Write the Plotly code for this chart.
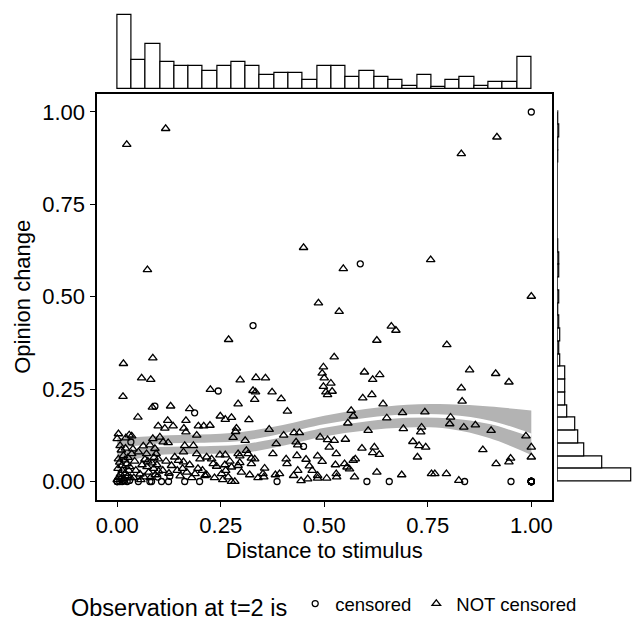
import plotly.graph_objects as go

# ---------------- data ----------------
# NOT censored observations (triangles)
nc_points = [
    (0.117,0.955),(0.023,0.912),(0.917,0.932),(0.831,0.887),(0.450,0.633),(0.073,0.573),(0.546,0.576),
    (0.757,0.600),(1.000,0.501),(0.486,0.483),(0.536,0.460),(0.662,0.420),(0.673,0.409),
    (0.269,0.384),(0.627,0.382),(0.796,0.370),(0.524,0.337),(0.015,0.319),(0.086,0.334),(0.498,0.310),(0.851,0.302),
    (0.059,0.280),(0.081,0.276),(0.297,0.275),(0.335,0.281),(0.358,0.280),(0.495,0.293),(0.500,0.280),(0.597,0.296),
    (0.634,0.289),(0.617,0.276),(0.914,0.292),
    (0.946,0.269),(0.516,0.266),(0.498,0.257),(0.831,0.253),(0.504,0.242),(0.519,0.244),(0.508,0.235),
    (0.014,0.230),(0.225,0.249),(0.328,0.246),(0.334,0.242),(0.374,0.242),(0.332,0.222),(0.396,0.224),(0.593,0.226),
    (0.615,0.235),(0.833,0.217),
    (0.292,0.210),(0.642,0.210),(0.085,0.201),(0.129,0.204),(0.175,0.197),(0.411,0.190),(0.565,0.192),(0.689,0.186),(0.743,0.188),
    (0.050,0.174),(0.249,0.177),(0.261,0.168),(0.276,0.173),(0.318,0.167),(0.570,0.177),(0.651,0.172),(0.805,0.174),
    (0.122,0.165),(0.166,0.165),
    (0.099,0.150),(0.115,0.144),(0.135,0.150),(0.161,0.144),(0.166,0.134),(0.196,0.150),(0.209,0.150),(0.224,0.152),
    (0.557,0.158),(0.803,0.156),(0.865,0.153),(0.837,0.147),(0.735,0.147),(0.288,0.144),(0.286,0.135),(0.367,0.141),
    (0.606,0.138),(0.691,0.143),(0.733,0.134),(0.903,0.138),
    (0.427,0.132),(0.440,0.132),(0.402,0.125),(0.192,0.125),(0.003,0.129),(0.029,0.126),(0.021,0.118),(0.000,0.116),
    (0.035,0.123),(0.987,0.123),(0.280,0.119),(0.490,0.120),(0.103,0.120),(0.086,0.116),
    (0.508,0.113),(0.524,0.111),(0.551,0.114),(0.309,0.111),(0.714,0.108),(0.111,0.107),(0.123,0.105),(0.432,0.107),
    (0.436,0.099),(0.384,0.102),(0.729,0.097),(0.745,0.093),(0.512,0.093),(0.591,0.090),(0.621,0.093),(1.000,0.093),
    (0.063,0.096),(0.079,0.099),(0.163,0.097),(0.184,0.097),(0.007,0.097),(0.091,0.089),(0.883,0.086),(0.312,0.084),
    (0.051,0.080),(0.160,0.080),(0.617,0.078),
    (0.035,0.075),(0.071,0.075),(0.094,0.075),(0.192,0.075),(0.292,0.075),(0.316,0.075),(0.376,0.075),(0.529,0.075),
    (0.633,0.073),(0.248,0.072),(0.261,0.072),(0.015,0.070),(0.434,0.070),(0.296,0.069),(0.484,0.069),
    (0.139,0.066),(0.216,0.066),(0.725,0.066),(1.000,0.066),(0.324,0.063),(0.950,0.063),(0.003,0.061),(0.099,0.061),
    (0.200,0.061),(0.228,0.061),(0.332,0.061),(0.408,0.061),(0.575,0.061),(0.456,0.060),
    (0.148,0.057),(0.570,0.057),(0.495,0.054),(0.160,0.053),(0.946,0.053),(0.296,0.051),(0.023,0.048),(0.232,0.048),
    (0.324,0.048),(0.410,0.048),(0.549,0.048),(0.915,0.048),(0.175,0.045),(0.260,0.045),(0.527,0.045),
    (0.011,0.043),(0.131,0.043),(0.292,0.043),(0.464,0.042),(0.240,0.041),(0.276,0.039),(0.555,0.039),(0.356,0.036),(0.561,0.034),
    (0.206,0.030),(0.262,0.030),(0.436,0.030),(0.471,0.030),(0.627,0.025),(0.188,0.021),(0.252,0.021),(0.352,0.021),
    (0.392,0.021),(0.529,0.021),(0.759,0.021),(0.767,0.021),(0.795,0.021),
    (0.216,0.018),(0.320,0.018),(0.382,0.018),(0.687,0.018),
    (0.212,0.016),(0.426,0.016),(0.484,0.016),(0.268,0.012),(0.354,0.012),(0.530,0.012),(0.573,0.012),(0.484,0.009),
    (0.506,0.009),(0.460,0.007),(0.444,0.002),(0.276,0.000),(0.284,0.000),(0.825,0.003),
    (0.000,0.005),(0.004,0.012),(0.008,0.020),(0.012,0.030),(0.002,0.035),(0.016,0.008),(0.019,0.022),(0.025,0.015),
    (0.028,0.030),(0.006,0.052),(0.018,0.058),(0.030,0.040),(0.010,0.085),(0.020,0.090),(0.026,0.065),(0.032,0.010),
    (0.040,0.010),(0.045,0.030),(0.055,0.020),(0.060,0.045),(0.065,0.012),(0.042,0.055),(0.038,0.088),(0.067,0.060),(0.057,0.005),
    (0.072,0.040),(0.076,0.025),(0.080,0.010),(0.084,0.050),(0.088,0.035),(0.092,0.018),(0.096,0.045),(0.100,0.028),
    (0.074,0.055),(0.089,0.065),
    (0.110,0.030),(0.118,0.055),(0.125,0.022),(0.145,0.030),(0.152,0.015),(0.158,0.035),(0.168,0.025),
    (0.180,0.010),(0.195,0.035),(0.235,0.010),(0.255,0.005),(0.272,0.055),(0.300,0.025),(0.340,0.010),
]
nc_x = [p[0] for p in nc_points]
nc_y = [p[1] for p in nc_points]

# censored observations (circles)
c_points = [
    (1.000,1.000),(0.587,0.589),(0.328,0.422),(0.244,0.245),(0.091,0.204),(0.187,0.186),(0.033,0.107),(0.450,0.095),
    (0.386,0.000),(0.603,0.000),(0.657,0.000),(0.839,0.000),(0.951,0.000),
    (1.000,0.000),(1.000,0.000),(1.000,0.000),(1.000,0.000),(1.000,0.000),(1.000,0.000),(1.000,0.000),
    (1.000,0.000),(1.000,0.000),(1.000,0.000),(1.000,0.000),(1.000,0.000),(1.000,0.000),
    (0.000,0.000),(0.000,0.000),(0.000,0.000),(0.006,0.000),(0.012,0.000),(0.018,0.002),(0.024,0.000),(0.030,0.003),
    (0.009,0.006),(0.015,0.004),(0.051,0.000),(0.079,0.000),(0.083,0.000),(0.098,0.012),(0.107,0.000),(0.127,0.014),
    (0.124,0.000),(0.163,0.000),(0.199,0.000),
]
c_x = [p[0] for p in c_points]
c_y = [p[1] for p in c_points]

# loess smooth (fit and confidence band)
smooth_x = [0.0, 0.1, 0.2, 0.3, 0.4, 0.5, 0.6, 0.7, 0.8, 0.9, 1.0]
smooth_fit = [0.085, 0.098, 0.100, 0.105, 0.125, 0.150, 0.167, 0.177, 0.176, 0.160, 0.125]
smooth_hi = [0.117, 0.124, 0.127, 0.134, 0.153, 0.178, 0.196, 0.208, 0.209, 0.203, 0.192]
smooth_lo = [0.050, 0.072, 0.075, 0.077, 0.097, 0.122, 0.138, 0.146, 0.143, 0.117, 0.072]

# marginal histogram counts (29 bins over [0, 1])
n_bins = 29
top_counts = [41, 16, 25, 15, 13, 13, 10, 13, 15, 13, 8, 9, 9, 5, 13, 13, 7, 10, 7, 5, 2, 8, 1, 5, 7, 2, 4, 4, 18]
right_counts = [97, 59, 35, 28, 23, 13, 11, 10, 10, 4, 2, 4, 2, 1, 2, 0, 2, 2, 1, 0, 0, 0, 0, 0, 0, 1, 1, 2, 1]

tick_vals = [0, 0.25, 0.5, 0.75, 1.0]
tick_text = ["0.00", "0.25", "0.50", "0.75", "1.00"]

# ---------------- figure ----------------
W, H = 634, 621
bin_w = 1.0 / n_bins
bin_centers = [(i + 0.5) * bin_w for i in range(n_bins)]

FONT = "Liberation Sans, Arial, Helvetica, sans-serif"
fig = go.Figure()

# confidence band: lower edge, then upper edge filled down to it
fig.add_trace(go.Scatter(
    x=smooth_x, y=smooth_lo, mode="lines",
    line=dict(width=0, shape="spline", color="rgba(0,0,0,0)"), showlegend=False, hoverinfo="skip"))
fig.add_trace(go.Scatter(
    x=smooth_x, y=smooth_hi, mode="lines", fill="tonexty", fillcolor="rgb(179,179,179)",
    line=dict(width=0, shape="spline", color="rgba(0,0,0,0)"), showlegend=False, hoverinfo="skip"))
fig.add_trace(go.Scatter(
    x=smooth_x, y=smooth_fit, mode="lines",
    line=dict(color="white", width=3.5, shape="spline"), showlegend=False, hoverinfo="skip"))

fig.add_trace(go.Scatter(
    x=c_x, y=c_y, mode="markers", name="censored",
    marker=dict(symbol="circle-open", size=6, color="black", line=dict(width=1.3))))
fig.add_trace(go.Scatter(
    x=nc_x, y=nc_y, mode="markers", name="NOT censored",
    marker=dict(symbol="triangle-up-open", size=7.5, color="black", line=dict(width=1.3))))

bar_style = dict(color="white", line=dict(color="black", width=1.2))
fig.add_trace(go.Bar(x=bin_centers, y=top_counts, width=bin_w, marker=bar_style,
                     xaxis="x2", yaxis="y2", showlegend=False, hoverinfo="skip"))
fig.add_trace(go.Bar(y=bin_centers, x=right_counts, width=bin_w, orientation="h", marker=bar_style,
                     xaxis="x3", yaxis="y3", showlegend=False, hoverinfo="skip"))
fig.add_trace(go.Scatter(x=[0, 0], y=[0, n_bins * bin_w], mode="lines",
                         line=dict(color="black", width=1.2),
                         xaxis="x3", yaxis="y3", showlegend=False, hoverinfo="skip"))

px_l, px_r, px_t, px_b = 96.5, 552.0, 93.5, 500.0
xdom = [px_l / W, px_r / W]
ydom = [(H - px_b) / H, (H - px_t) / H]

axis_common = dict(
    range=[-0.05, 1.05], tickvals=tick_vals, ticktext=tick_text,
    ticks="outside", ticklen=5, tickwidth=1.2, tickcolor="black",
    showline=True, mirror=True, linecolor="black", linewidth=2,
    showgrid=False, zeroline=False,
    tickfont=dict(size=22, color="black", family=FONT),
)

fig.update_layout(
    width=W, height=H,
    margin=dict(l=0, r=0, t=0, b=0, autoexpand=False),
    paper_bgcolor="white", plot_bgcolor="white",
    font=dict(family=FONT, color="black"),
    xaxis=dict(domain=xdom, anchor="y",
               title=dict(text="Distance to stimulus", font=dict(size=22), standoff=2),
               automargin=False, **axis_common),
    yaxis=dict(domain=ydom, anchor="x",
               title=dict(text="Opinion change", font=dict(size=22), standoff=6),
               automargin=False, **axis_common),
    xaxis2=dict(domain=xdom, anchor="y2", range=[-0.05, 1.05], visible=False),
    yaxis2=dict(domain=[(H - 89.3) / H, 1.0], anchor="x2", range=[0, 49.3], visible=False),
    xaxis3=dict(domain=[557.3 / W, 1.0], anchor="y3", range=[0, 100.5], visible=False),
    yaxis3=dict(domain=ydom, anchor="x3", range=[-0.05, 1.05], visible=False),
    bargap=0,
    legend=dict(
        orientation="h", x=325.5 / W, xanchor="center", y=(H - 605.5) / H, yanchor="middle",
        traceorder="normal",
        title=dict(text="Observation at t=2 is", side="left", font=dict(size=23.5)),
        font=dict(size=18.5), bgcolor="rgba(0,0,0,0)", itemwidth=30,
    ),
)

fig.write_html("out.html", config={"displayModeBar": False},
               post_script="document.body.style.margin='0';")
